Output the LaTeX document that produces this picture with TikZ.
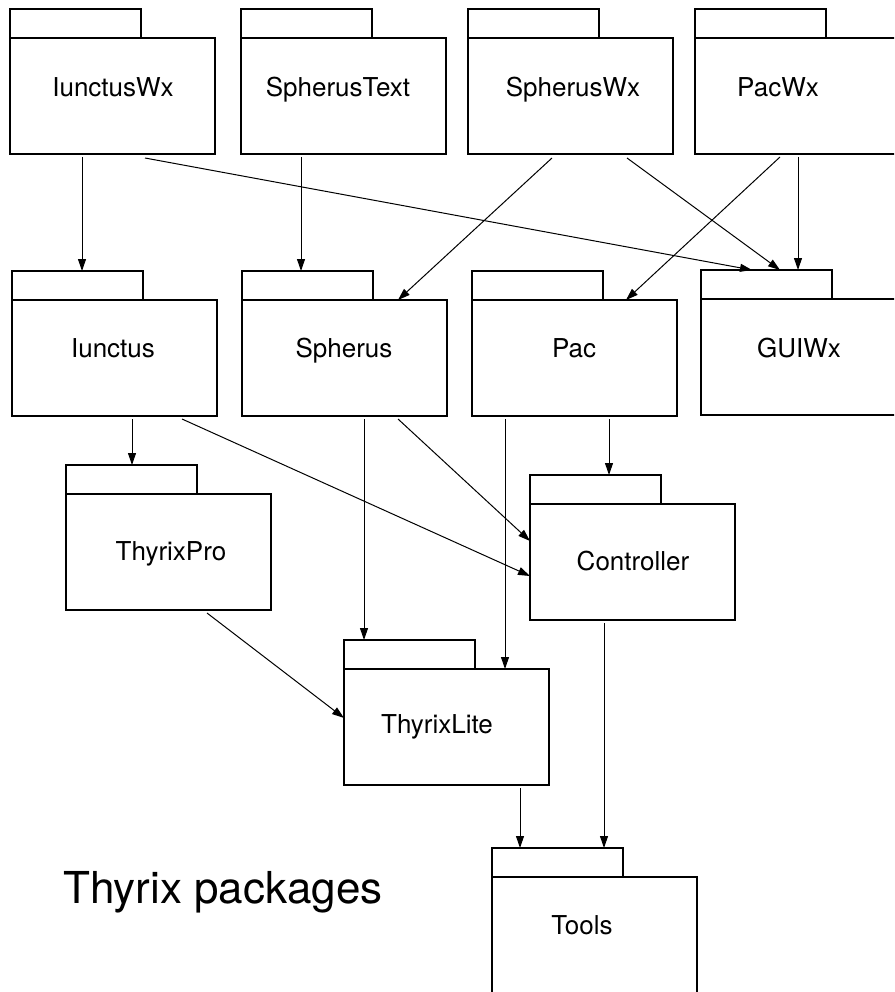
\documentclass[tikz,border=0pt]{standalone}
\usepackage{fontspec}
\setmainfont{TeX Gyre Heros}
\usepackage{tikz}
\usetikzlibrary{
    positioning,
    arrows.meta,
    calc,
}
\tikzset{
    % Package styles
    pkg body/.style={rectangle, draw, line width=1.1pt, anchor=north west,
                     minimum width=205pt, minimum height=116pt, inner sep=0pt, outer sep=0pt},
    pkg tab/.style={pkg body, anchor=south west, minimum width=131pt, minimum height=29pt},
    pkg name/.style={anchor=base, inner sep=0pt, font=\fontsize{26}{30}\selectfont},
    % Arrow styles
    dep/.style={-{Triangle[length=12pt, width=8pt]}, line width=1pt},
}

\begin{document}
\begin{tikzpicture}[x=1pt, y=-1pt]
    \path[use as bounding box, clip] (0,0) rectangle (894,992);

    % Packages
    \foreach \n/\x/\y/\lx/\ly/\t in {
        iunctuswx/10/38/113/97/IunctusWx,
        spherustext/241/38/338/97/SpherusText,
        spheruswx/468/38/573/97/SpherusWx,
        pacwx/695/38/778/97/PacWx,
        iunctus/12/300/113/357/Iunctus,
        spherus/242/300/344/357/Spherus,
        pac/472/300/574/357/Pac,
        guiwx/701/299/799/357/GUIWx,
        thyrixpro/66/494/171/560/ThyrixPro,
        controller/530/504/633/570/Controller,
        thyrixlite/344/669/437/733/ThyrixLite,
        tools/492/877/582/934/Tools} {
        \node[pkg body] (\n) at (\x,\y) {};
        \node[pkg tab] (\n-tab) at (\n.north west) {};
        \node[pkg name] (\n-name) at (\lx,\ly) {\t};
    }

    % Dependencies
    \foreach \a/\ax/\ay/\b/\bx/\by in {
        iunctuswx.south west/72/3/iunctus-tab.north west/70/0,
        iunctuswx.south west/135/4/guiwx-tab.north west/51/0,
        spherustext.south west/60/3/spherus-tab.north west/59/0,
        spheruswx.south west/84/4/spherus.north west/156/0,
        spheruswx.south west/159/4/guiwx-tab.north west/79/0,
        pacwx.south west/85/3/pac.north west/154/0,
        pacwx.south west/103/3/guiwx-tab.north west/97/0,
        iunctus.south west/120/3/thyrixpro-tab.north west/66/0,
        iunctus.south west/170/3/controller.north west/0/72,
        spherus.south west/122/3/thyrixlite-tab.north west/20/0,
        spherus.south west/156/3/controller.north west/0/37,
        pac.south west/33/3/thyrixlite.north west/161/0,
        pac.south west/137/3/controller-tab.north west/79/0,
        thyrixpro.south west/141/3/thyrixlite.north west/0/49,
        thyrixlite.south west/176/3/tools-tab.north west/28/0,
        controller.south west/74/3/tools-tab.north west/112/0} {
        \draw[dep] ([shift={(\ax,\ay)}]\a) -- ([shift={(\bx,\by)}]\b);
    }

    % Title
    \node[anchor=base west, inner sep=0pt, font=\fontsize{44}{50}\selectfont] (title) at (63,903) {Thyrix packages};
\end{tikzpicture}
\end{document}
